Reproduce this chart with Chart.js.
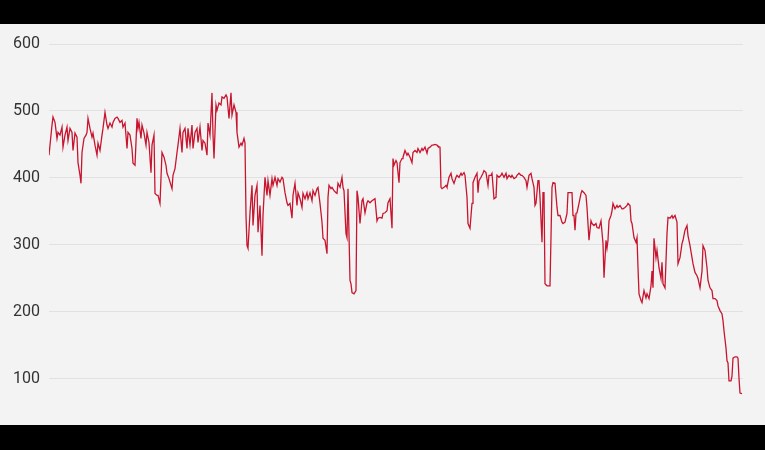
<!DOCTYPE html>
<html>
<head>
<meta charset="utf-8">
<script src="https://cdn.jsdelivr.net/npm/chart.js@4/dist/chart.umd.min.js"></script>
<style>
  html, body { margin: 0; padding: 0; background: #000; }
  body { width: 765px; height: 450px; position: relative; overflow: hidden; }
  #wrap { position: absolute; left: 0; top: 24px; width: 765px; height: 401px; background: #f3f3f3; }
</style>
</head>
<body>
<div id="wrap"><canvas id="c"></canvas></div>
<script>
const days = [
0,3,4,6,8,9,11,13,14,16,18,19,21,23,24,26,28,29,31,32,33,35,37,38,39,41,43,44,46,48,49,51,53,54,56,58,59,61,63,64,66,68,69,71,73,74,76,78,79,81,83,84,86,88,89,90,92,93,95,97,98,100,102,103,105,106,108,109,111,113,115,117,118,120,122,123,124,126,128,129,131,133,134,
136,138,139,141,143,144,146,148,149,151,153,154,156,158,159,161,163,164,165,167,168,170,172,173,175,177,178,180,182,183,185,187,188,190,192,193,195,196,197,198,199,201,203,204,206,208,209,211,213,214,216,218,219,221,223,224,226,228,229,231,233,234,236,238,239,241,243,244,246,248,249,251,253,254,256,258,259,261,263,264,266,268,269,271,273,274,
276,278,279,280,282,283,285,287,288,289,291,293,294,295,297,298,299,301,302,303,305,307,308,309,311,313,314,316,318,319,321,323,326,328,329,331,333,334,336,338,339,341,343,344,345,347,348,350,351,353,354,356,358,359,361,363,364,366,368,369,371,373,374,376,378,379,381,383,384,386,388,389,391,392,393,395,397,398,400,402,403,405,407,408,410,412,413,415,
416,418,419,421,423,424,426,428,429,430,432,434,435,437,439,440,442,443,445,447,448,450,452,453,455,457,458,460,462,463,465,467,468,470,472,473,475,477,478,480,482,483,485,486,487,489,490,491,493,494,495,496,498,499,501,503,504,506,508,509,511,513,514,516,518,519,521,523,524,525,526,527,528,530,532,533,535,537,538,540,542,543,545,547,548,550,552,553,554,555,
557,558,559,560,562,563,564,566,568,569,571,573,574,576,578,579,581,582,583,585,587,588,589,590,592,593,595,597,598,600,602,603,604,605,607,608,610,612,613,614,616,618,619,621,623,624,626,628,629,631,633,634,636,638,639,641,643,644,646,648,649,651,653,654,656,658,659,661,663,664,666,668,669,671,673,674,675,677,678,679,680,682,683,684,686,688,689,690,691,693
];
const values = [
434,479,491,483,459,468,464,476,446,464,476,456,474,468,441,467,461,423,404,392,438,459,464,468,489,474,461,467,449,434,452,441,464,474,498,479,474,482,476,483,489,491,489,483,486,476,482,444,468,464,444,422,419,489,474,483,459,479,467,449,468,453,408,449,464,377,374,374,362,438,431,419,407,399,389,384,404,414,438,449,474,438,468,
474,444,474,449,479,444,468,474,453,476,441,456,452,434,482,464,527,464,429,509,501,512,509,521,519,524,521,489,527,494,509,498,468,446,452,449,459,452,344,299,295,348,389,329,374,389,319,359,284,344,401,374,396,374,399,389,401,389,399,394,401,399,378,363,359,362,340,374,392,359,378,369,356,377,369,378,369,378,366,381,374,384,386,362,334,310,
307,287,371,389,384,386,381,378,377,392,386,401,386,381,317,311,384,247,242,229,227,232,381,371,332,366,369,348,363,366,363,366,369,336,340,341,340,347,348,351,363,369,325,429,419,426,423,393,423,429,431,441,434,437,431,423,438,441,438,444,438,444,441,446,437,444,446,449,449,450,449,447,446,386,384,386,389,386,401,407,399,392,401,404,401,407,404,408,
404,371,332,325,362,393,401,407,378,396,401,407,411,408,389,404,404,407,369,371,404,401,404,407,401,407,399,404,401,404,399,401,404,407,404,404,401,396,386,404,407,399,386,359,362,396,396,371,304,378,378,242,239,239,239,386,393,392,356,344,344,334,332,334,347,378,378,378,344,344,322,347,348,362,377,381,378,374,356,307,336,332,329,332,326,325,336,319,302,251,
307,295,307,336,344,351,362,354,359,356,359,354,354,356,359,362,359,336,332,311,304,311,266,227,217,214,232,221,227,220,239,261,236,310,281,292,266,250,274,242,236,317,341,340,344,340,344,334,272,281,302,307,322,329,314,299,281,272,259,254,250,236,261,299,292,266,247,236,232,220,220,217,209,202,197,187,172,146,127,124,97,97,104,131,133,133,131,101,79,78
];
const yTicks = [100, 200, 300, 400, 500, 600];

const points = days.map((d, i) => ({ x: d, y: values[i] }));

new Chart(document.getElementById('c'), {
  type: 'line',
  data: {
    datasets: [{
      data: points,
      borderColor: '#c8152f',
      borderWidth: 1.3,
      pointRadius: 0,
      tension: 0,
      fill: false
    }]
  },
  options: {
    responsive: true,
    maintainAspectRatio: false,
    animation: false,
    layout: { padding: { top: 20, right: 22, bottom: 0, left: 0 } },
    plugins: { legend: { display: false }, tooltip: { enabled: false } },
    scales: {
      x: { type: 'linear', min: 0, max: 694, display: false },
      y: {
        min: 59, max: 600,
        afterBuildTicks: (axis) => { axis.ticks = yTicks.map(v => ({ value: v })); },
        afterFit: (axis) => { axis.width = 49; },
        border: { display: false },
        grid: { color: '#e1e1e1', drawTicks: false, lineWidth: 1 },
        ticks: {
          padding: 9,
          color: '#333333',
          font: { family: 'Roboto', size: 16 }
        }
      }
    }
  }
});
</script>
</body>
</html>
